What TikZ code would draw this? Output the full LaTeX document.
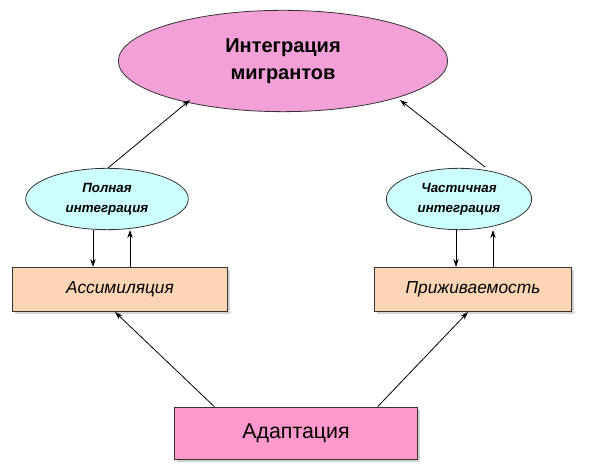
\documentclass[tikz,border=0pt]{standalone}
\usepackage{fontspec}
\setmainfont{Liberation Sans}
\usetikzlibrary{shapes.geometric,arrows.meta,shadows}
\definecolor{pinkf}{HTML}{F4A0D8}
\definecolor{cyanf}{HTML}{CCFFFF}
\definecolor{orangef}{HTML}{FCD5B4}
\definecolor{pinkb}{HTML}{FF99CC}
\begin{document}
\begin{tikzpicture}[x=0.75pt,y=-0.75pt,
  ell/.style={ellipse,draw=black!80,line width=0.6pt,inner sep=0pt},
  boxs/.style={rectangle,draw=black!80,line width=0.6pt,inner sep=0pt,drop shadow={shadow xshift=2pt,shadow yshift=-2pt,fill=black!35}},
  arr/.style={-{Stealth[length=6pt,width=4pt]},line width=0.6pt}]
\useasboundingbox (0,0) rectangle (604,473);
\node[ell,fill=pinkf,minimum width=247pt,minimum height=76pt,align=center,font=\fontsize{15}{20}\selectfont\bfseries] (top) at (283,61) {Интеграция\\мигрантов};
\node[ell,fill=cyanf,minimum width=122pt,minimum height=46pt,align=center,font=\fontsize{10}{15}\selectfont\bfseries\itshape] (el) at (107,199) {Полная\\интеграция};
\node[ell,fill=cyanf,minimum width=109pt,minimum height=46pt,align=center,font=\fontsize{10}{15}\selectfont\bfseries\itshape] (er) at (459,199) {Частичная\\интеграция};
\node[boxs,fill=orangef,minimum width=161pt,minimum height=33pt,font=\fontsize{13}{15}\selectfont\itshape] (bl) at (120,289) {Ассимиляция};
\node[boxs,fill=orangef,minimum width=148pt,minimum height=33pt,font=\fontsize{13}{15}\selectfont\itshape] (br) at (473,289) {Приживаемость};
\node[boxs,fill=pinkb,minimum width=182pt,minimum height=39pt,font=\fontsize{16}{18}\selectfont] (ad) at (296,433) {Адаптация};
\coordinate (t1) at (190,100); \coordinate (t2) at (400,100);
\draw[arr] (108,168) -- (t1);
\draw[arr] (485,167) -- (t2);
\draw[arr] (93,230) -- (93,267);
\draw[arr] (130,267) -- (130,230);
\draw[arr] (456,230) -- (456,267);
\draw[arr] (493,267) -- (493,230);
\draw[arr] (ad.north west) ++(40,0) -- (115,312);
\draw[arr] (ad.north east) ++(-40,0) -- (468,312);
\end{tikzpicture}
\end{document}
